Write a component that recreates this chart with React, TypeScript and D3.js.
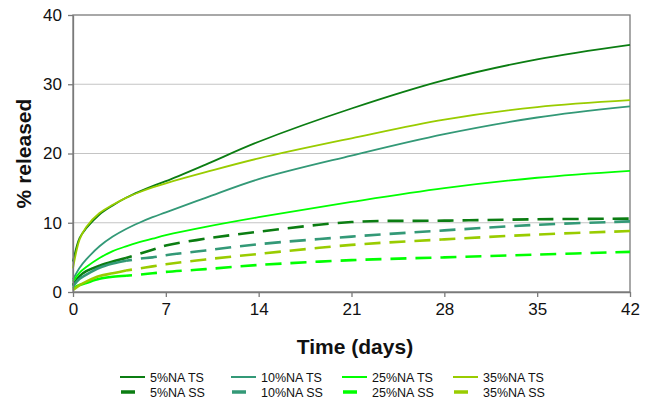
import { useEffect, useRef } from "react";
import * as d3 from "d3";

const width = 651;
const height = 399;

const margin = { top: 15, right: 21, bottom: 107, left: 73 };

// sampling days (x values)
const days = [0, 0.5, 1, 2, 3, 4, 5, 6, 7, 10, 14, 21, 28, 35, 42];

// % released, TS samples
const ts5 = [4.4, 7.8, 9.2, 11.2, 12.5, 13.6, 14.5, 15.3, 16.0, 18.4, 21.7, 26.5, 30.6, 33.6, 35.7];
const ts10 = [1.8, 3.5, 4.7, 6.6, 8.0, 9.1, 10.0, 10.8, 11.5, 13.6, 16.3, 19.7, 22.8, 25.2, 26.8];
const ts25 = [1.5, 2.8, 3.6, 4.9, 5.9, 6.6, 7.2, 7.7, 8.2, 9.4, 10.8, 13.0, 15.0, 16.5, 17.5];
const ts35 = [3.4, 7.6, 9.4, 11.4, 12.6, 13.6, 14.4, 15.1, 15.7, 17.3, 19.3, 22.2, 24.9, 26.7, 27.7];

// % released, SS samples
const ss5 = [1.0, 2.3, 3.0, 3.8, 4.4, 4.9, 5.5, 6.1, 6.7, 7.7, 8.7, 10.1, 10.3, 10.5, 10.6];
const ss10 = [0.8, 1.9, 2.5, 3.5, 4.1, 4.5, 4.8, 5.0, 5.3, 6.0, 6.9, 8.0, 8.9, 9.7, 10.2];
const ss25 = [0.5, 1.0, 1.3, 1.9, 2.2, 2.35, 2.5, 2.7, 2.9, 3.3, 3.9, 4.6, 5.0, 5.4, 5.8];
const ss35 = [0.3, 1.0, 1.5, 2.3, 2.7, 3.1, 3.4, 3.7, 4.0, 4.7, 5.5, 6.8, 7.6, 8.3, 8.8];

const xTicks = [0, 7, 14, 21, 28, 35, 42];
const yTicks = [0, 10, 20, 30, 40];

const colors = ["#0b7d12", "#339977", "#00ff00", "#99cc00"];

const series = [
  { name: "5%NA TS", group: 0, kind: "TS", values: ts5 },
  { name: "10%NA TS", group: 1, kind: "TS", values: ts10 },
  { name: "25%NA TS", group: 2, kind: "TS", values: ts25 },
  { name: "35%NA TS", group: 3, kind: "TS", values: ts35 },
  { name: "5%NA SS", group: 0, kind: "SS", values: ss5 },
  { name: "10%NA SS", group: 1, kind: "SS", values: ss10 },
  { name: "25%NA SS", group: 2, kind: "SS", values: ss25 },
  { name: "35%NA SS", group: 3, kind: "SS", values: ss35 },
];

const font = "'Liberation Sans', Arial, sans-serif";

export default function App() {
  const ref = useRef<SVGSVGElement>(null);

  useEffect(() => {
    const svg = d3.select(ref.current);
    svg.selectAll("*").remove();

    const right = width - margin.right;
    const bottom = height - margin.bottom;

    const x = d3.scaleLinear().domain([0, 42]).range([margin.left, right]);
    const y = d3.scaleLinear().domain([0, 40]).range([bottom, margin.top]);

    // gridlines
    svg
      .append("g")
      .selectAll("line")
      .data(yTicks.filter((t) => t > 0 && t < 40))
      .join("line")
      .attr("x1", margin.left)
      .attr("x2", right)
      .attr("y1", (d) => y(d))
      .attr("y2", (d) => y(d))
      .attr("stroke", "#c4c4c4")
      .attr("stroke-width", 1.2);

    // frame
    svg
      .append("rect")
      .attr("x", margin.left)
      .attr("y", margin.top)
      .attr("width", right - margin.left)
      .attr("height", bottom - margin.top)
      .attr("fill", "none")
      .attr("stroke", "#7a7a7a")
      .attr("stroke-width", 1.3);

    const line = (vals: number[], from: number, to: number) =>
      d3
        .line<number>()
        .x((_, i) => x(days[from + i]))
        .y((d) => y(d))
        .curve(d3.curveCatmullRom.alpha(0.5))(vals.slice(from, to));

    const lines = svg.append("g");
    // SS first (solid start, then dashed), TS on top
    const split = days.indexOf(4);
    series
      .filter((s) => s.kind === "SS")
      .forEach((s) => {
        lines
          .append("path")
          .attr("d", line(s.values, 0, split + 1))
          .attr("fill", "none")
          .attr("stroke", colors[s.group])
          .attr("stroke-width", 2.6);
        lines
          .append("path")
          .attr("d", line(s.values, split, days.length))
          .attr("fill", "none")
          .attr("stroke", colors[s.group])
          .attr("stroke-width", 2.6)
          .attr("stroke-dasharray", "16 9")
          .attr("stroke-dashoffset", 10);
      });
    series
      .filter((s) => s.kind === "TS")
      .forEach((s) => {
        lines
          .append("path")
          .attr("d", line(s.values, 0, days.length))
          .attr("fill", "none")
          .attr("stroke", colors[s.group])
          .attr("stroke-width", 1.8);
      });

    // x axis
    const xAxis = svg
      .append("g")
      .attr("transform", `translate(0,${bottom})`)
      .call(d3.axisBottom(x).tickValues(xTicks).tickSize(5).tickSizeOuter(0).tickPadding(6));
    xAxis.select(".domain").attr("stroke", "#7a7a7a").attr("stroke-width", 1.3);
    xAxis.selectAll(".tick line").attr("stroke", "#7a7a7a").attr("stroke-width", 1.3);
    xAxis
      .selectAll("text")
      .attr("font-family", font)
      .attr("font-size", 17)
      .attr("fill", "#111");

    // y axis
    const yAxis = svg
      .append("g")
      .attr("transform", `translate(${margin.left},0)`)
      .call(d3.axisLeft(y).tickValues(yTicks).tickSize(5).tickSizeOuter(0).tickPadding(6));
    yAxis.select(".domain").attr("stroke", "#7a7a7a").attr("stroke-width", 1.3);
    yAxis.selectAll(".tick line").attr("stroke", "#7a7a7a").attr("stroke-width", 1.3);
    yAxis
      .selectAll("text")
      .attr("font-family", font)
      .attr("font-size", 17)
      .attr("fill", "#111");

    // axis titles
    svg
      .append("text")
      .attr("x", 355)
      .attr("y", 354)
      .attr("text-anchor", "middle")
      .attr("font-family", font)
      .attr("font-weight", "bold")
      .attr("font-size", 21)
      .attr("fill", "#111")
      .text("Time (days)");

    svg
      .append("text")
      .attr("transform", `translate(31,${(margin.top + bottom) / 2}) rotate(-90)`)
      .attr("text-anchor", "middle")
      .attr("font-family", font)
      .attr("font-weight", "bold")
      .attr("font-size", 21)
      .attr("fill", "#111")
      .text("% released");

    // legend
    const legend = svg.append("g");
    const colX = d3.scaleLinear().domain([0, 1]).range([120, 231]);
    const rowY = d3.scaleOrdinal<string, number>().domain(["TS", "SS"]).range([377, 392]);
    series.forEach((s) => {
      const lx = colX(s.group);
      const ly = rowY(s.kind);
      const g = legend.append("g");
      if (s.kind === "TS") {
        g.append("line")
          .attr("x1", lx)
          .attr("x2", lx + 25)
          .attr("y1", ly)
          .attr("y2", ly)
          .attr("stroke", colors[s.group])
          .attr("stroke-width", 2);
      } else {
        g.append("line")
          .attr("x1", lx + 1)
          .attr("x2", lx + 15)
          .attr("y1", ly)
          .attr("y2", ly)
          .attr("stroke", colors[s.group])
          .attr("stroke-width", 3.5);
      }
      g.append("text")
        .attr("x", lx + 30)
        .attr("y", ly + 4.5)
        .attr("font-family", font)
        .attr("font-size", 12.5)
        .attr("fill", "#111")
        .text(s.name);
    });
  }, []);

  return (
    <svg
      ref={ref}
      width={width}
      height={height}
      viewBox={`0 0 ${width} ${height}`}
      style={{ position: "absolute", left: 0, top: 0, background: "#fff" }}
    />
  );
}
